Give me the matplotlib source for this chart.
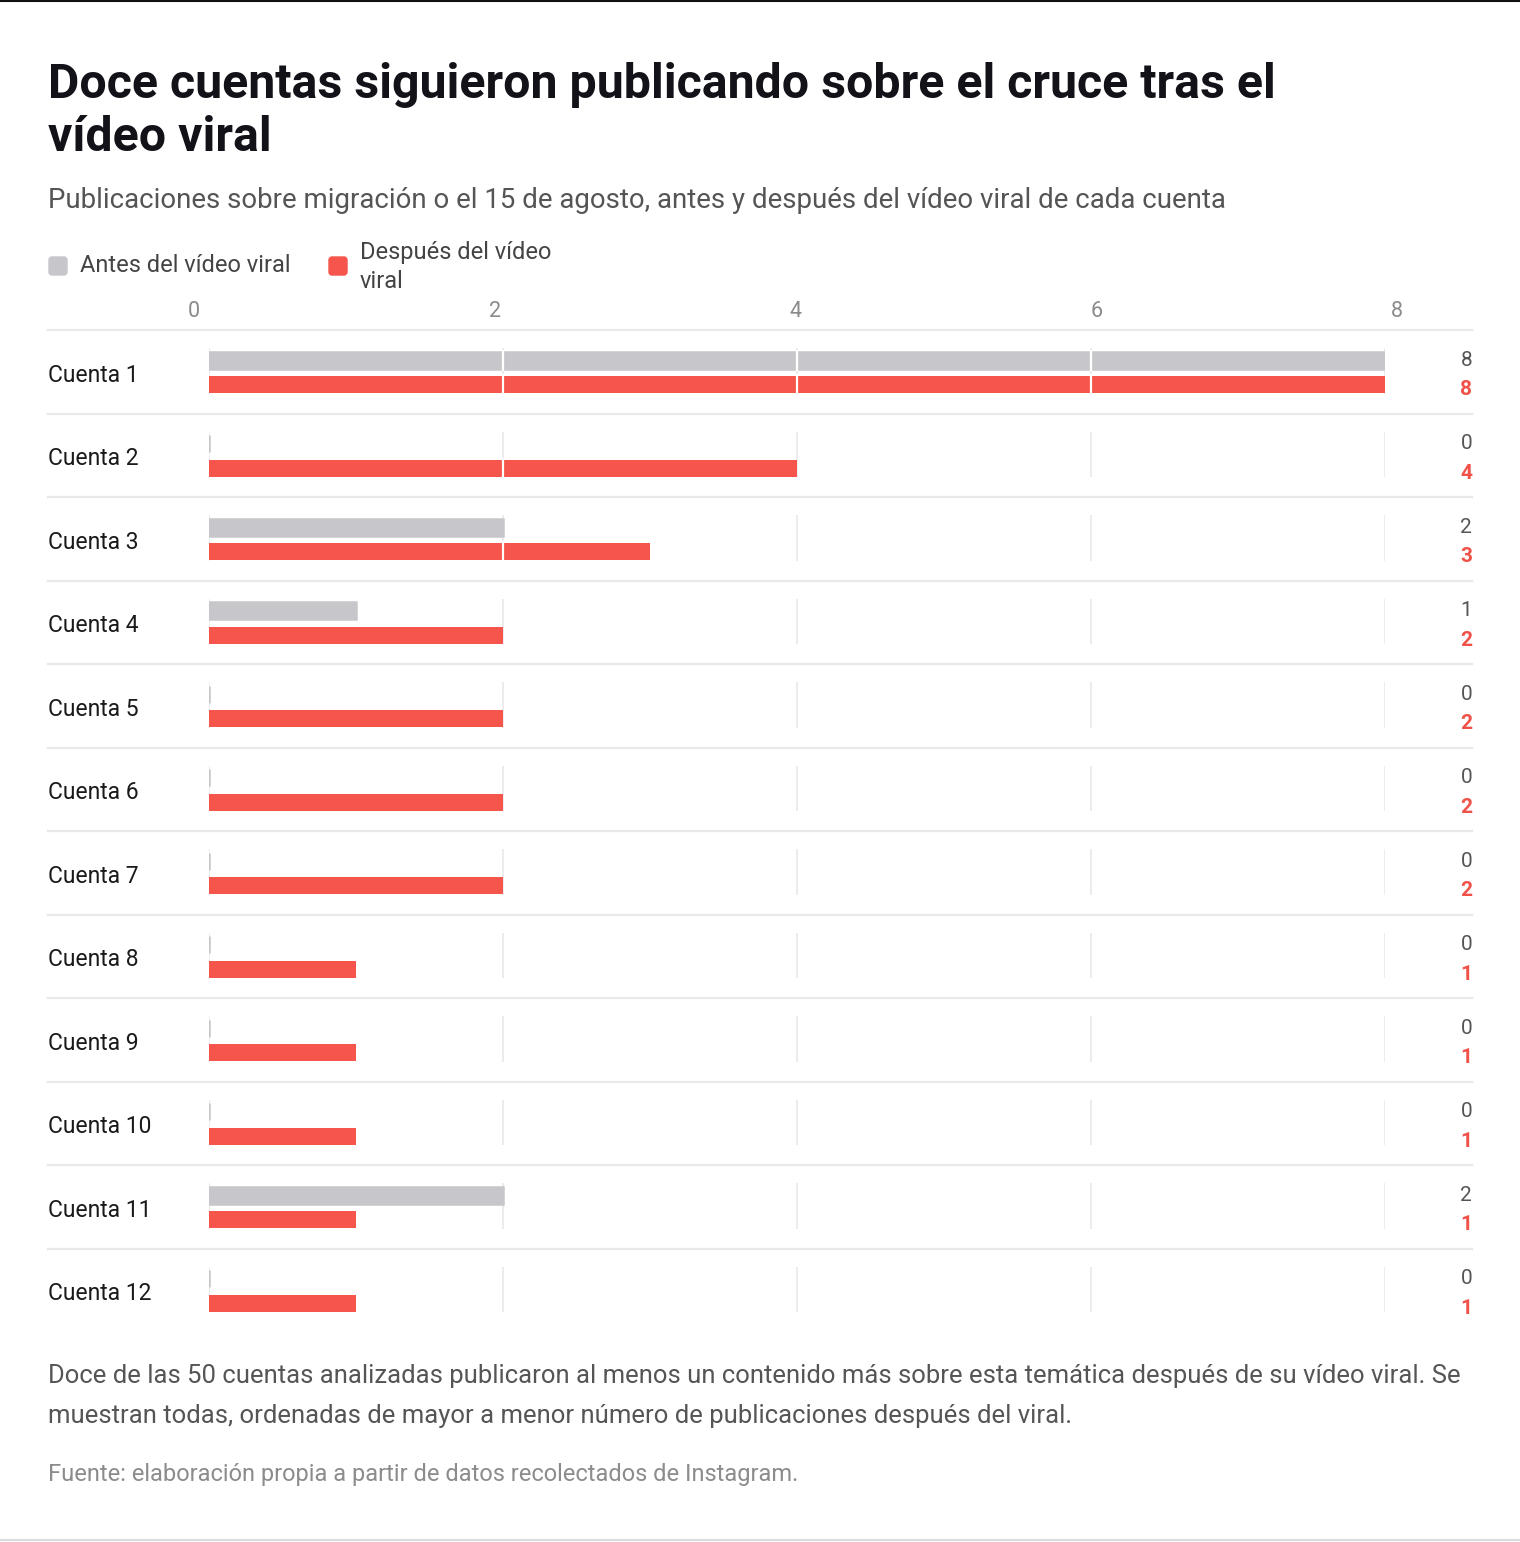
import matplotlib
matplotlib.use("Agg")
import matplotlib.pyplot as plt
from matplotlib.transforms import blended_transform_factory
from matplotlib.patches import FancyBboxPatch

# Datos
cuentas = ["Cuenta 1", "Cuenta 2", "Cuenta 3", "Cuenta 4", "Cuenta 5", "Cuenta 6",
           "Cuenta 7", "Cuenta 8", "Cuenta 9", "Cuenta 10", "Cuenta 11", "Cuenta 12"]
antes = [8, 0, 2, 1, 0, 0, 0, 0, 0, 0, 2, 0]
despues = [8, 4, 3, 2, 2, 2, 2, 1, 1, 1, 1, 1]
ticks = [0, 2, 4, 6, 8]

titulo = ["Doce cuentas siguieron publicando sobre el cruce tras el", "vídeo viral"]
subtitulo = "Publicaciones sobre migración o el 15 de agosto, antes y después del vídeo viral de cada cuenta"
nota = ["Doce de las 50 cuentas analizadas publicaron al menos un contenido más sobre esta temática después de su vídeo viral. Se",
        "muestran todas, ordenadas de mayor a menor número de publicaciones después del viral."]
fuente = "Fuente: elaboración propia a partir de datos recolectados de Instagram."

W, H = 1520, 1542
GRIS = "#c7c7cb"
ROJO = "#f5554a"

plt.rcParams['font.family'] = ['Roboto', 'DejaVu Sans']
fig = plt.figure(figsize=(W / 100, H / 100), dpi=100)


def fx(px):
    return px / W


def fy(py):
    return 1 - py / H


def ajustar(t, ancho):
    # escala la fuente para que el texto ocupe 'ancho' pixeles
    r = fig.canvas.get_renderer()
    w = t.get_window_extent(r).width
    t.set_fontsize(t.get_fontsize() * ancho / w)


ax = fig.add_axes([fx(209), fy(1332), fx(1385) - fx(209), (1332 - 330) / H])
ax.set_xlim(0, 8)
ax.set_ylim(12, 0)

filas = list(range(len(cuentas)))
alto = 0.204
y_antes = [i + 0.365 for i in filas]
y_despues = [i + 0.653 for i in filas]

# rejilla de fondo por fila
for i in filas:
    ax.vlines(ticks, i + 0.216, i + 0.766, color="#e9e9ec", lw=1.2, zorder=1)

ax.barh(y_antes, antes, height=alto, color=GRIS, edgecolor=GRIS, lw=1.8, zorder=2)
ax.barh(y_despues, despues, height=alto, color=ROJO, zorder=2)

# lineas blancas de la rejilla solo donde cruzan las barras
for i in filas:
    for t in ticks[1:-1]:
        if antes[i] > t:
            ax.vlines(t, y_antes[i] - alto / 2 - 0.02, y_antes[i] + alto / 2 + 0.02,
                      color="white", lw=1.6, zorder=3)
        if despues[i] > t:
            ax.vlines(t, y_despues[i] - alto / 2 - 0.02, y_despues[i] + alto / 2 + 0.02,
                      color="white", lw=1.6, zorder=3)

trans = blended_transform_factory(fig.transFigure, ax.transData)
for i in filas:
    ax.plot([fx(48), fx(1472)], [i, i], color="#e8e8ea", lw=1.6, transform=trans, clip_on=False)
    ax.text(fx(48), i + 0.54, cuentas[i], transform=trans, ha="left", va="center",
            fontsize=16.5, color="#1a1a1a")
    ax.text(fx(1472), y_antes[i], str(antes[i]), transform=trans, ha="right", va="center",
            fontsize=15, color="#555555")
    ax.text(fx(1472), y_despues[i] + 0.06, str(despues[i]), transform=trans, ha="right", va="center",
            fontsize=15, color="#f0524a", fontweight="bold")

ax.set_xticks([])
ax.set_yticks([])
for s in ax.spines.values():
    s.set_visible(False)

# etiquetas del eje superior (algo desplazadas respecto a la rejilla, como en el original)
ax_t = fig.add_axes([fx(194), fy(1332), fx(1397) - fx(194), (1332 - 330) / H], zorder=-1)
ax_t.patch.set_visible(False)
ax_t.set_xlim(0, 8)
ax_t.xaxis.tick_top()
ax_t.set_xticks(ticks)
ax_t.set_yticks([])
ax_t.tick_params(axis="x", length=0, pad=6, labelsize=15.5, labelcolor="#8a8a8a")
for s in ax_t.spines.values():
    s.set_visible(False)

# titulo y textos
t1 = fig.text(fx(48), fy(85), titulo[0], ha="left", va="center", fontsize=36,
              fontweight="bold", color="#121218")
ajustar(t1, 1227)
fig.text(fx(48), fy(138), titulo[1], ha="left", va="center", fontsize=t1.get_fontsize(),
         fontweight="bold", color="#121218")
t = fig.text(fx(48), fy(201), subtitulo, ha="left", va="center", fontsize=19, color="#555555")
ajustar(t, 1177)

# leyenda
fig.add_artist(FancyBboxPatch((fx(49), fy(275)), fx(18), 18 / H,
                              boxstyle="round,pad=0,rounding_size=0.002",
                              transform=fig.transFigure, color=GRIS))
fig.add_artist(FancyBboxPatch((fx(329), fy(275)), fx(18), 18 / H,
                              boxstyle="round,pad=0,rounding_size=0.002",
                              transform=fig.transFigure, color=ROJO))
t = fig.text(fx(80), fy(266), "Antes del vídeo viral", ha="left", va="center",
             fontsize=17, color="#444444")
ajustar(t, 211)
fig.text(fx(360), fy(253), "Después del vídeo", ha="left", va="center",
         fontsize=t.get_fontsize(), color="#444444")
fig.text(fx(360), fy(281), "viral", ha="left", va="center",
         fontsize=t.get_fontsize(), color="#444444")

t = fig.text(fx(48), fy(1376), nota[0], ha="left", va="center", fontsize=18, color="#555555")
ajustar(t, 1412)
fig.text(fx(48), fy(1416), nota[1], ha="left", va="center", fontsize=t.get_fontsize(), color="#555555")
t = fig.text(fx(48), fy(1474), fuente, ha="left", va="center", fontsize=16, color="#8c8c8c")
ajustar(t, 750)

# bordes
fig.add_artist(plt.Line2D([0, 1], [fy(1), fy(1)], color="#111111", lw=1.5, transform=fig.transFigure))
fig.add_artist(plt.Line2D([0, 1], [fy(1540), fy(1540)], color="#dddddd", lw=1.5, transform=fig.transFigure))

fig.savefig("out.png", dpi=100, facecolor="white")
